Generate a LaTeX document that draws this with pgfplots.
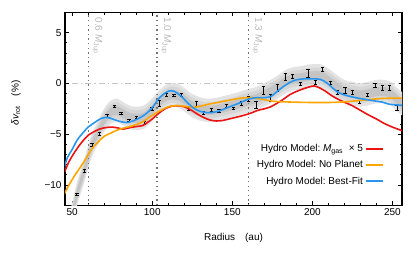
\documentclass[border=0pt]{standalone}
\usepackage{pgfplots}
\pgfplotsset{compat=1.18}
\usepackage{pgfplotstable}
\usepgfplotslibrary{fillbetween}
\usepackage{fontspec}
\setmainfont{Liberation Sans}
\definecolor{cred}{RGB}{235,20,20}
\definecolor{corange}{RGB}{255,165,0}
\definecolor{cblue}{RGB}{40,150,240}

\pgfplotstableread{
R v
49 -13.6
53 -10.9
57.5 -8.6
62 -6.2
66 -4.9
70 -3.6
74 -2.85
78 -2.65
82 -3.0
86 -3.35
90 -3.45
95 -3.3
100 -2.6
104 -1.9
108 -1.35
112 -1.1
116 -1.2
120 -1.6
124 -2.1
128 -2.4
132 -2.6
137 -2.65
142 -2.5
147 -2.3
151 -2.15
156 -1.9
160 -1.7
165 -1.5
170 -1.1
174 -0.8
178 -0.4
183 0.15
188 0.45
193 0.55
197 0.7
202 0.75
206 0.7
211 0.2
216 -0.4
220 -0.8
225 -1.0
230 -1.15
235 -1.0
240 -0.8
245 -0.8
249 -1.0
253 -1.6
256 -2.0
}\bandtab

\pgfplotstableread{
R v e
52.9 -10.9 0.12
57.5 -8.6 0.12
62.3 -6.07 0.15
67.0 -4.95 0.12
71.7 -3.2 0.12
76.3 -2.28 0.1
80.6 -2.93 0.12
85.6 -3.6 0.1
90.2 -3.36 0.12
95.0 -3.9 0.15
99.8 -2.54 0.15
104.4 -1.98 0.3
108.75 -1.15 0.15
113.5 -1.18 0.12
118.1 -1.15 0.15
122.7 -2.54 0.15
127.5 -2.0 0.25
132.0 -2.87 0.15
136.9 -2.6 0.12
141.7 -2.7 0.15
146.25 -2.2 0.15
150.8 -2.44 0.12
155.6 -1.98 0.2
160.2 -1.55 0.25
164.8 -2.1 0.35
169.6 -0.66 0.4
173.75 -1.39 0.35
178.3 -0.46 0.35
183.1 0.6 0.35
187.7 0.66 0.2
192.5 -0.06 0.15
197.3 1.03 0.4
201.9 0.1 0.15
206.4 1.36 0.2
211.25 0.04 0.15
215.8 -0.89 0.2
220.4 -0.72 0.3
225.0 -0.89 0.2
229.6 -1.78 0.15
234.6 -1.12 0.15
239.2 -0.16 0.2
243.75 -0.46 0.25
248.3 -0.46 0.25
252.9 -2.38 0.25
}\datatab

\pgfplotstableread{
R v
44 -9.1
45 -8.8
48 -7.7
51 -6.9
54 -6.2
57 -5.6
60 -5.1
63 -4.8
67 -4.5
71 -4.35
75 -4.3
79 -4.4
82 -4.5
86 -4.35
90 -4.25
94 -4.15
97 -3.85
100 -3.5
104 -2.95
108 -2.5
112 -2.25
116 -2.2
120 -2.3
124 -2.6
128 -3.0
132 -3.35
136 -3.6
140 -3.7
144 -3.65
148 -3.5
152 -3.35
157 -3.15
162 -2.9
166 -2.65
170 -2.5
174 -2.3
178 -1.95
182 -1.55
186 -1.1
190 -0.8
194 -0.55
198 -0.35
201 -0.25
204 -0.4
208 -0.75
212 -1.2
216 -1.55
220 -1.85
225 -2.2
230 -2.65
235 -3.1
240 -3.5
245 -3.95
250 -4.3
256 -4.65
}\redtab

\pgfplotstableread{
R v
44 -11.2
45 -10.9
48 -10.0
51 -9.2
54 -8.5
57 -7.8
60 -7.0
63 -6.3
66 -5.8
70 -5.2
74 -4.9
78 -4.6
82 -4.4
86 -4.25
90 -4.05
94 -3.8
98 -3.35
102 -2.95
106 -2.6
110 -2.3
114 -2.2
118 -2.2
122 -2.3
126 -2.35
130 -2.25
135 -2.05
140 -1.9
145 -1.75
150 -1.6
155 -1.45
160 -1.4
165 -1.45
170 -1.6
175 -1.75
180 -1.8
190 -1.85
200 -1.88
210 -1.88
220 -1.82
228 -1.7
235 -1.6
242 -1.5
250 -1.45
256 -1.45
}\orangetab

\pgfplotstableread{
R v
44 -8.7
45 -8.3
47 -7.3
50 -6.5
53 -5.6
56 -5.0
60 -4.3
64 -3.85
68 -3.45
72 -3.35
76 -3.55
80 -3.75
84 -3.85
88 -3.7
92 -3.4
96 -3.0
100 -2.4
104 -1.5
108 -0.95
111 -0.72
114 -0.8
118 -1.25
122 -1.9
126 -2.45
130 -2.75
134 -2.87
138 -2.85
142 -2.7
146 -2.45
150 -2.2
155 -1.9
160 -1.55
165 -1.4
170 -1.4
174 -1.3
178 -0.8
182 -0.3
186 0.1
190 0.35
195 0.45
200 0.45
205 0.4
209 0.05
213 -0.5
217 -0.95
222 -1.22
227 -1.4
232 -1.55
238 -1.7
244 -1.85
248 -2.05
256 -2.15
}\bluetab

\begin{document}
\begin{tikzpicture}
\begin{axis}[
  scale only axis,
  width=337pt, height=193pt,
  xmin=45.5, xmax=256, ymin=-12, ymax=7,
  xtick={50,100,150,200,250},
  ytick={-10,-5,0,5},
  yticklabels={−10,−5,0,5},
  minor x tick num=4,
  minor y tick num=4,
  tick align=inside,
  major tick length=4pt,
  minor tick length=2.5pt,
  tick style={black, line width=0.8pt},
  axis line style={black, line width=1.3pt},
  /pgf/number format/assume math mode=true,
  tick label style={font=\fontsize{10}{12}\selectfont},
  xlabel={Radius\quad(au)},
  ylabel={{\itshape δv}\textsubscript{rot}\quad(\%)},
  xlabel style={at={(axis description cs:0.5,-0.17)}, anchor=center, font=\fontsize{10}{12}\selectfont},
  ylabel style={at={(axis description cs:-0.145,0.53)}, anchor=center, font=\fontsize{10}{12}\selectfont},
  legend style={draw=none, fill=none, at={(rel axis cs:0.955,0.08)}, anchor=south east,
    font=\fontsize{10}{12}\selectfont, row sep=3.5pt},
  legend cell align=right,
  legend plot pos=right,
]
% band
\addplot[name path=u1, draw=none, smooth, forget plot] table[x=R, y expr=\thisrow{v}+1.15] {\bandtab};
\addplot[name path=l1, draw=none, smooth, forget plot] table[x=R, y expr=\thisrow{v}-1.15] {\bandtab};
\addplot[name path=u2, draw=none, smooth, forget plot] table[x=R, y expr=\thisrow{v}+0.8] {\bandtab};
\addplot[name path=l2, draw=none, smooth, forget plot] table[x=R, y expr=\thisrow{v}-0.8] {\bandtab};
\addplot[name path=u3, draw=none, smooth, forget plot] table[x=R, y expr=\thisrow{v}+0.45] {\bandtab};
\addplot[name path=l3, draw=none, smooth, forget plot] table[x=R, y expr=\thisrow{v}-0.45] {\bandtab};
\addplot[black!11, forget plot] fill between[of=u1 and l1];
\addplot[black!18, fill opacity=0.7, forget plot] fill between[of=u2 and l2];
\addplot[black!26, fill opacity=0.7, forget plot] fill between[of=u3 and l3];
% reference lines
\addplot[gray!45, line width=0.9pt, dash pattern=on 6pt off 3pt on 1.2pt off 3pt, forget plot] coordinates {(50,0) (256,0)};
\addplot[black!55, line width=1.3pt, dash pattern=on 1.3pt off 3.3pt, forget plot] coordinates {(60,-12) (60,7)};
\addplot[black!55, line width=1.3pt, dash pattern=on 1.3pt off 3.3pt, forget plot] coordinates {(103,-12) (103,7)};
\addplot[black!55, line width=1.3pt, dash pattern=on 1.3pt off 3.3pt, forget plot] coordinates {(160,-12) (160,7)};
\node[rotate=-90, anchor=south west, text=black!28, font=\fontsize{10}{12}\selectfont, inner sep=0pt] at (axis cs:62.5,6.5) {0.6 \textit{M}\textsubscript{Jup}};
\node[rotate=-90, anchor=south west, text=black!28, font=\fontsize{10}{12}\selectfont, inner sep=0pt] at (axis cs:105.5,6.5) {1.0 \textit{M}\textsubscript{Jup}};
\node[rotate=-90, anchor=south west, text=black!28, font=\fontsize{10}{12}\selectfont, inner sep=0pt] at (axis cs:162.5,6.5) {1.3 \textit{M}\textsubscript{Jup}};
% data
\addplot[draw=none, mark=none, forget plot,
  error bars/.cd, y dir=both, y explicit,
  error bar style={draw=black, line width=0.75pt},
  error mark options={draw=black, rotate=90, mark size=1.7pt, line width=0.75pt}]
  table[x=R, y=v, y error=e] {\datatab};
% models
\addplot[cred, line width=1.6pt, smooth] table[x=R, y=v] {\redtab};
\addlegendentry{Hydro Model:\ \textit{M}\textsubscript{gas} \ × 5}
\addplot[corange, line width=1.6pt, smooth] table[x=R, y=v] {\orangetab};
\addlegendentry{Hydro Model:\ No Planet}
\addplot[cblue, line width=1.6pt, smooth] table[x=R, y=v] {\bluetab};
\addlegendentry{Hydro Model:\ Best-Fit}
\end{axis}
\path (current axis.south west) ++(-65pt,-52pt) coordinate (bbA);
\path (current axis.north east) ++(14pt,12.3pt) coordinate (bbB);
\path (bbA) rectangle (bbB);
\end{tikzpicture}
\end{document}
